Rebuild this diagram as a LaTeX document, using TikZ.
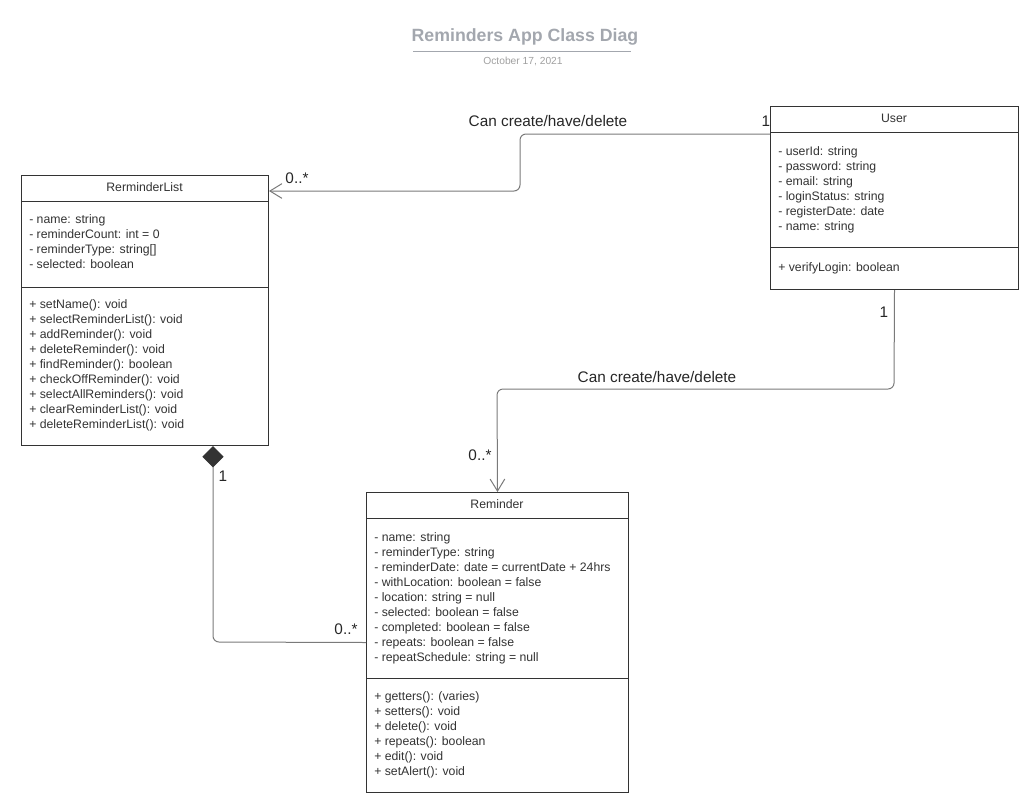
\documentclass[tikz,border=0pt]{standalone}
\usepackage{fontspec}
\setmainfont{Liberation Sans}
\usetikzlibrary{arrows.meta}
\definecolor{ink}{HTML}{333333}
\definecolor{connc}{HTML}{7A7A7A}
\definecolor{ttl}{HTML}{A3A7AE}
\definecolor{subc}{HTML}{A0A0A0}
\tikzset{
  clsbox/.style={draw=ink, line width=0.75pt, inner sep=0, anchor=north west, fill=white},
  clsname/.style={font=\fontsize{9.2}{11}\selectfont, text=ink, inner sep=0},
  mem/.style={font=\fontsize{9.2}{11}\selectfont, text=ink, inner sep=0, anchor=base west},
  divider/.style={draw=ink, line width=0.75pt},
  lbl/.style={font=\fontsize{11.5}{14}\selectfont, text=black!85, inner sep=0},
  connector/.style={draw=connc, line width=0.75pt, rounded corners=4.5pt},
  openarrow/.style={-{Straight Barb[length=9pt,width=11pt]}},
  composite/.style={{Diamond[length=16pt,width=16pt,color=ink]}-},
}
\begin{document}
\begin{tikzpicture}[x=0.75pt,y=-0.75pt]
\useasboundingbox (0,0) rectangle (1031,800);

% title
\node[font=\bfseries\fontsize{13.3}{16}\selectfont, text=ttl, inner sep=0] (title) at (525,37) {Reminders App Class Diag};
\draw[ttl, line width=0.75pt] (413,51) -- (631,51);
\node[font=\fontsize{7.7}{9}\selectfont, text=subc, inner sep=0] (date) at (523,61) {October 17, 2021};

% RerminderList
\node[clsbox, minimum width=185.25pt, minimum height=202.5pt] (rl) at (21,175) {};
\node[clsname] (rlname) at (144.5,187) {RerminderList};
\draw[divider] (rl.north west) ++(0,26) -- ++(247,0);
\draw[divider] (rl.north west) ++(0,112) -- ++(247,0);
\foreach \t [count=\i from 0] in {- name: string, - reminderCount: int = 0, - reminderType: string[], - selected: boolean}
  \node[mem] (rla\i) at (29,223+15*\i) {\t};
\foreach \t [count=\i from 0] in {+ setName(): void, + selectReminderList(): void, + addReminder(): void, + deleteReminder(): void, + findReminder(): boolean, + checkOffReminder(): void, + selectAllReminders(): void, + clearReminderList(): void, + deleteReminderList(): void}
  \node[mem] (rlm\i) at (29,308+15*\i) {\t};

% User
\node[clsbox, minimum width=186pt, minimum height=137.25pt] (user) at (770,106) {};
\node[clsname] (username) at (894,118) {User};
\draw[divider] (user.north west) ++(0,26) -- ++(248,0);
\draw[divider] (user.north west) ++(0,141) -- ++(248,0);
\foreach \t [count=\i from 0] in {- userId: string, - password: string, - email: string, - loginStatus: string, - registerDate: date, - name: string}
  \node[mem] (usera\i) at (778,155+15*\i) {\t};
\node[mem] (userm0) at (778,271) {+ verifyLogin: boolean};

% Reminder
\node[clsbox, minimum width=196.5pt, minimum height=225pt] (rem) at (366,492) {};
\node[clsname] (remname) at (497,504) {Reminder};
\draw[divider] (rem.north west) ++(0,26) -- ++(262,0);
\draw[divider] (rem.north west) ++(0,186) -- ++(262,0);
\foreach \t [count=\i from 0] in {- name: string, - reminderType: string, - reminderDate: date = currentDate + 24hrs, - withLocation: boolean = false, - location: string = null, - selected: boolean = false, - completed: boolean = false, - repeats: boolean = false, - repeatSchedule: string = null}
  \node[mem] (rema\i) at (374,541+15*\i) {\t};
\foreach \t [count=\i from 0] in {+ getters(): (varies), + setters(): void, + delete(): void, + repeats(): boolean, + edit(): void, + setAlert(): void}
  \node[mem] (remm\i) at (374,700+15*\i) {\t};

% connectors
\draw[connector, openarrow] ([yshift=-21pt]user.north west) -- (520,134) -- (520,191) -- ([yshift=-12pt]rl.north east);
\draw[connector, openarrow] (user.south) -- (894,389) -- (497,389) -- (rem.north);
\draw[connector, composite] (rl.south -| 213,0) -- (213,642) -- (rem.west);

% labels
\node[lbl] (l1) at (548,121) {Can create/have/delete};
\node[lbl] (l1a) at (766,121) {1};
\node[lbl] (l1b) at (297,178) {0..*};
\node[lbl] (l2) at (657,377) {Can create/have/delete};
\node[lbl] (l2a) at (884,312) {1};
\node[lbl] (l2b) at (480,455) {0..*};
\node[lbl] (l3a) at (223,476) {1};
\node[lbl] (l3b) at (346,629) {0..*};
\end{tikzpicture}
\end{document}
